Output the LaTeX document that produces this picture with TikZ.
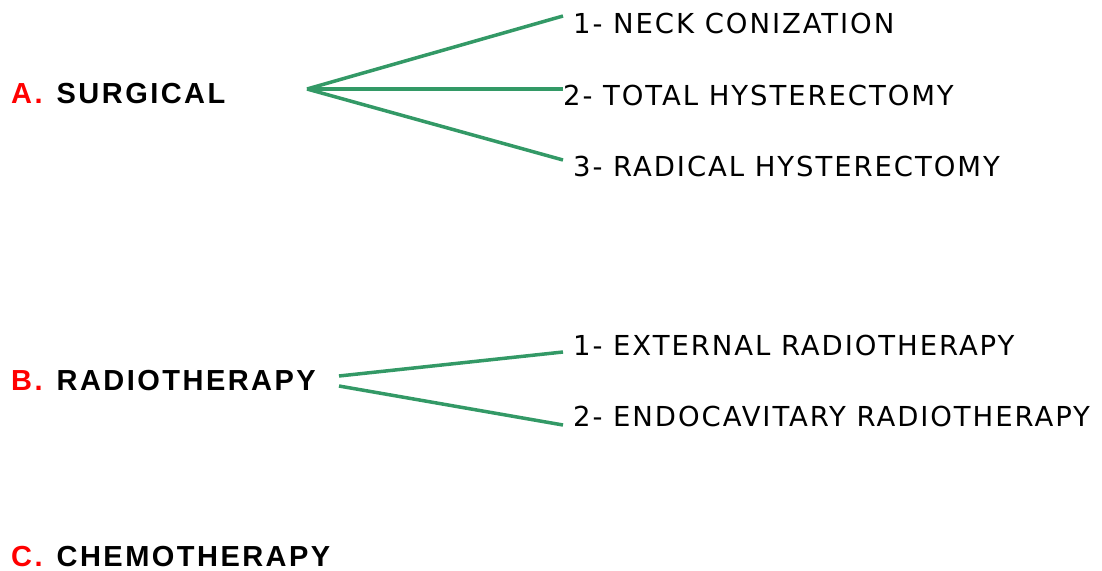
\documentclass[tikz,border=0pt]{standalone}
\usepackage{fontspec}
\setmainfont[LetterSpace=7]{DejaVu Sans}
\newfontfamily\headfont[LetterSpace=8.5]{Liberation Sans}
\definecolor{branch}{RGB}{51,153,102}
\definecolor{letterred}{RGB}{255,0,0}
\newcommand{\grouplabel}[2]{\textcolor{letterred}{#1}\hspace{14pt}#2}
\begin{document}
\begin{tikzpicture}[x=1pt,y=-1pt,
  heading/.style={anchor=base west,inner sep=0pt,font=\headfont\fontsize{29}{30}\selectfont\bfseries},
  item/.style={anchor=base west,inner sep=0pt,font=\fontsize{27.5}{28}\selectfont},
  branchline/.style={draw=branch,line width=3.5pt}]
\useasboundingbox (0,0) rectangle (1102,570);

% treatment groups
\node[heading] (A) at (11,103) {\grouplabel{A.}{SURGICAL}};
\node[heading] (B) at (11,390) {\grouplabel{B.}{RADIOTHERAPY}};
\node[heading] (C) at (11,566) {\grouplabel{C.}{CHEMOTHERAPY}};

% surgical options
\node[item] (a1) at (573,33) {1- NECK CONIZATION};
\node[item] (a2) at (563,105) {2- TOTAL HYSTERECTOMY};
\node[item] (a3) at (573,176) {3- RADICAL HYSTERECTOMY};

% radiotherapy options
\node[item] (b1) at (573,355) {1- EXTERNAL RADIOTHERAPY};
\node[item] (b2) at (573,426) {2- ENDOCAVITARY RADIOTHERAPY};

% branch points
\coordinate (fa) at (307,89);
\coordinate (fb1) at (339,376);
\coordinate (fb2) at (339,386);
\coordinate (ea1) at (563,16);
\coordinate (ea2) at (563,89);
\coordinate (ea3) at (563,160);
\coordinate (eb1) at (563,352);
\coordinate (eb2) at (563,425);

\draw[branchline] (fa) -- (ea1);
\draw[branchline] (fa) -- (ea2);
\draw[branchline] (fa) -- (ea3);
\draw[branchline] (fb1) -- (eb1);
\draw[branchline] (fb2) -- (eb2);
\end{tikzpicture}
\end{document}
